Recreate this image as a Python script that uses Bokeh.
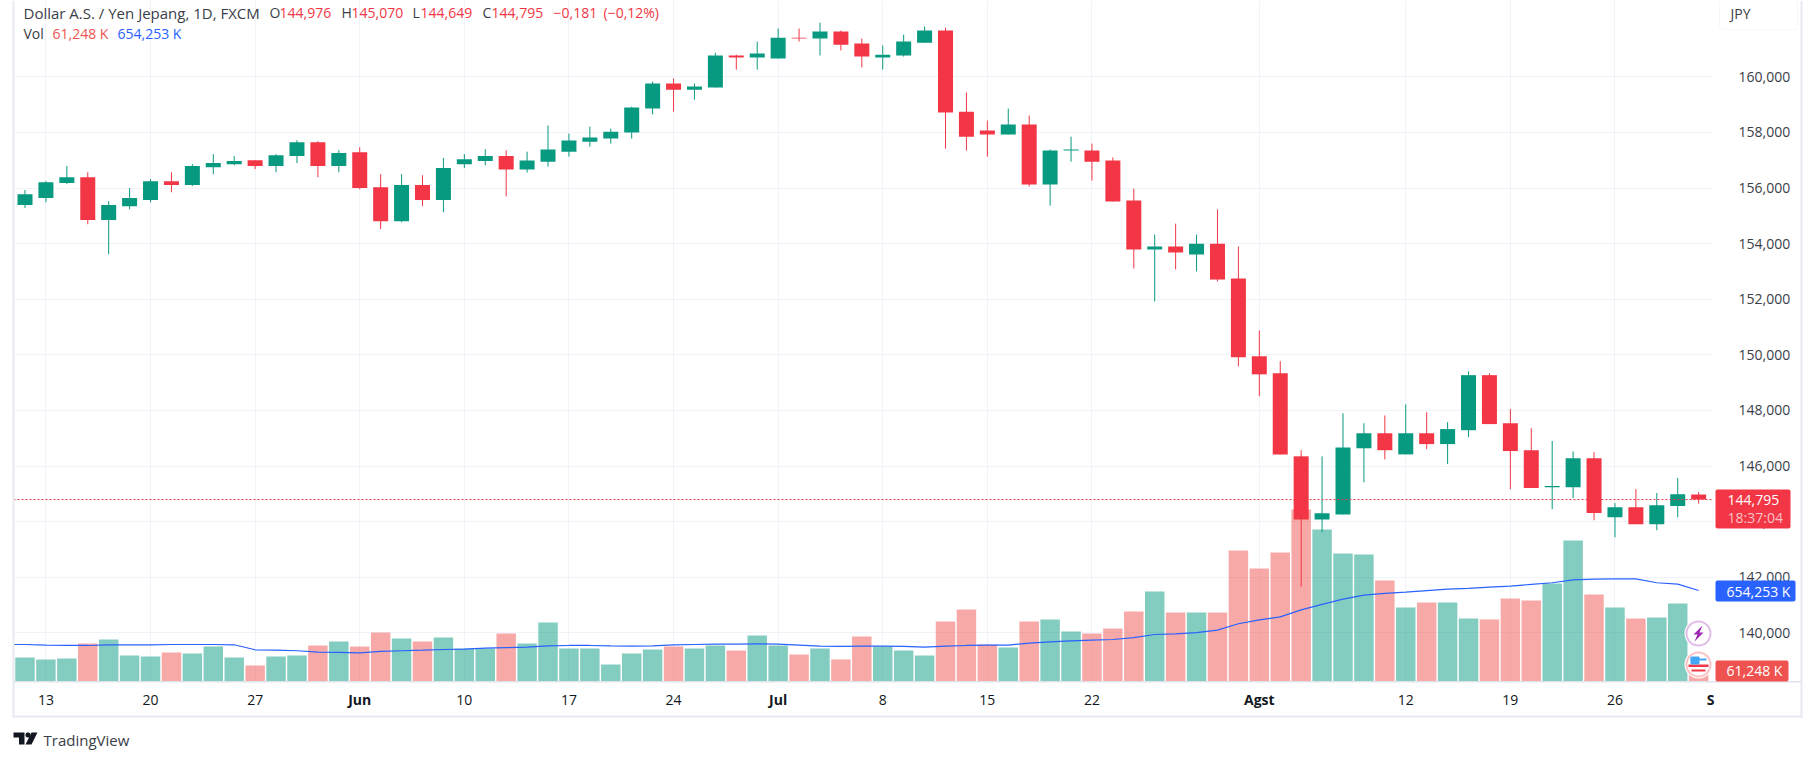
import numpy as np
from bokeh.plotting import figure
from bokeh.embed import file_html
from bokeh.resources import INLINE
from bokeh.models import (ColumnDataSource, Range1d, FixedTicker, Label, BoxAnnotation,
                          PolyAnnotation, Span)

open_ = [155.39,155.64,156.18,156.39,154.85,155.35,155.57,156.25,156.11,156.75,156.86,157.00,156.79,157.15,157.65,156.79,157.29,156.03,154.81,156.11,155.57,156.86,156.97,157.15,
         156.67,156.95,157.31,157.67,157.78,158.00,158.86,159.76,159.54,159.62,160.77,160.70,160.66,161.41,161.38,161.63,161.20,160.70,160.77,161.23,161.67,158.75,158.07,157.93,158.29,156.13,157.35,157.35,156.99,155.55,153.79,153.90,153.61,154.00,
         152.75,149.95,149.34,146.35,144.08,144.26,146.64,147.18,146.42,147.18,146.79,147.29,149.27,147.54,146.57,145.24,145.24,146.28,144.16,144.52,143.91,144.56,144.976]
high = [155.93,156.25,156.79,156.57,155.53,156.00,156.32,156.57,156.86,157.22,157.15,157.00,157.22,157.72,157.69,157.36,157.47,156.50,156.50,156.46,157.08,157.22,157.40,157.36,
        157.31,158.25,157.96,158.21,158.14,158.93,159.83,159.94,159.76,160.87,160.80,161.27,161.74,161.74,161.95,161.67,161.38,161.13,161.52,161.81,161.77,159.44,158.43,158.86,158.61,157.39,157.85,157.60,157.10,155.98,154.33,154.72,154.33,155.23,
        153.90,150.88,149.77,146.57,146.35,147.90,147.54,147.82,148.22,147.94,147.58,149.41,149.34,148.05,147.36,146.90,146.53,146.50,144.67,145.17,145.03,145.57,145.07]
low = [155.28,155.49,156.14,154.70,153.62,155.24,155.49,155.85,156.07,156.50,156.82,156.68,156.57,156.90,156.39,156.57,155.96,154.52,154.77,155.35,155.13,156.72,156.82,155.70,
       156.56,156.77,157.13,157.49,157.60,157.78,158.65,158.75,159.18,159.62,160.26,160.26,160.66,161.27,160.77,160.95,160.34,160.26,160.73,161.23,157.42,157.35,157.13,157.93,156.06,155.37,156.95,156.27,155.52,153.11,151.92,153.07,153.00,152.64,
       149.59,148.51,146.42,141.67,143.62,144.26,145.42,146.24,146.42,146.61,146.07,147.04,147.51,145.17,145.21,144.45,144.85,144.05,143.44,143.91,143.69,144.16,144.649]
close = [155.78,156.21,156.39,154.85,155.39,155.64,156.25,156.11,156.79,156.90,156.97,156.79,157.18,157.65,156.79,157.26,156.00,154.81,156.11,155.57,156.72,157.04,157.15,156.67,
         156.99,157.39,157.71,157.82,158.03,158.90,159.76,159.54,159.65,160.77,160.70,160.84,161.41,161.38,161.63,161.16,160.73,160.80,161.27,161.67,158.72,157.85,157.93,158.29,156.13,157.35,157.39,156.95,155.52,153.79,153.90,153.68,154.00,152.71,
         149.91,149.30,146.42,144.08,144.30,146.67,147.18,146.57,147.18,146.79,147.33,149.27,147.51,146.54,145.21,145.28,146.28,144.31,144.52,143.91,144.59,144.99,144.795]
volume = [173,158,165,273,302,187,180,209,201,252,173,115,180,187,259,288,252,352,309,288,316,237,237,345,
          273,424,237,237,122,201,230,252,237,259,223,331,259,194,237,158,324,252,223,187,431,518,266,244,431,446,360,345,381,503,647,496,496,496,
          942,813,928,1237,1093,920,913,726,532,568,568,453,446,597,582,705,1014,626,532,453,460,561,61.248]
vol_ma = [266,261,259,259,264,264,264,266,266,266,264,228,225,221,211,209,206,216,221,225,230,233,240,244,
          247,256,259,259,256,254,256,264,266,268,268,271,268,261,254,252,254,254,252,247,254,259,261,261,276,285,292,297,302,316,338,343,352,369,
          415,443,465,515,554,592,621,633,642,654,664,669,678,686,698,710,731,736,738,738,710,700,654.253]
price_ticks = [140,142,144,146,148,150,152,154,156,158,160]
date_ticks = {1:"13",6:"20",11:"27",16:"",21:"10",26:"17",31:"24",36:"",41:"8",46:"15",51:"22",59:"",66:"12",71:"19",76:"26"}
month_ticks = {16:"Jun",36:"Jul",59:"Agst"}
last_price = 144.795

UP, DOWN = "#089981", "#f23645"
VUP, VDOWN = "#089981", "#ef5350"
GRID, EDGE = "#f0f3fa", "#e8eaf1"
INK, AX = "#131722", "#3a3e48"
FONT = "Open Sans"
N = len(open_)
assert all(len(a) == N for a in (high, low, close, volume, vol_ma)), [len(a) for a in (open_, high, low, close, volume, vol_ma)]

W, H = 1814, 760
XS, XE = -0.55, 80.71
p = figure(width=W, height=H, output_backend="svg", toolbar_location=None,
           x_range=Range1d(XS, XE), y_range=Range1d(138.25, 162.748),
           y_axis_location="right", min_border_left=13, min_border_right=101,
           min_border_top=0, min_border_bottom=79, outline_line_color=None,
           background_fill_color="white", border_fill_color="white")
p.extra_y_ranges["vol"] = Range1d(0, 4896)

x = np.arange(N)
o, c = np.array(open_), np.array(close)
is_up = c >= o
src = ColumnDataSource(dict(x=x, open=o, close=c, high=high, low=low, volume=volume,
                            color=[UP if u else DOWN for u in is_up],
                            vcolor=[VUP if u else VDOWN for u in is_up],
                            top=np.maximum(o, c), bottom=np.minimum(o, c)))

p.vbar(x="x", top="volume", bottom=0, width=0.93, fill_color="vcolor", fill_alpha=0.5,
       line_color=None, source=src, y_range_name="vol")
p.line(np.r_[XS, x], np.r_[vol_ma[0], vol_ma], line_color="#2962ff", line_width=1.2,
       y_range_name="vol")
p.add_layout(Span(location=last_price, dimension="width", line_color=DOWN, line_width=1,
                  line_dash="2 2", level="glyph"))
p.segment(x0="x", x1="x", y0="low", y1="high", line_color="color", line_width=1, source=src)
p.vbar(x="x", top="top", bottom="bottom", width=0.717, fill_color="color", line_color=None, source=src)

# axes and grid
ax = p.yaxis[0]
ax.ticker = FixedTicker(ticks=price_ticks)
ax.major_label_overrides = {t: f"{t},000" for t in price_ticks}
ax.major_label_text_font = FONT
ax.major_label_text_font_size = "14px"
ax.major_label_text_color = AX
ax.major_tick_line_color = None
ax.minor_tick_line_color = None
ax.axis_line_color = None
ax.major_label_standoff = 19

xa = p.xaxis[0]
xa.ticker = FixedTicker(ticks=sorted(date_ticks))
xa.major_label_overrides = date_ticks
xa.major_label_text_font = FONT
xa.major_label_text_font_size = "14px"
xa.major_label_text_color = INK
xa.major_tick_line_color = None
xa.minor_tick_line_color = None
xa.axis_line_color = None
xa.major_label_standoff = 7

p.xgrid.grid_line_color = GRID
p.ygrid.grid_line_color = GRID
p.xgrid.grid_line_width = 1
p.ygrid.grid_line_width = 1

# transparent layer over the whole chart: scale price tags, legend, frame and footer
px_per_bar = 1700 / (XE - XS)
ov = figure(width=W, height=H, output_backend="svg", toolbar_location=None,
            x_range=Range1d(XS - 13 / px_per_bar, XE + 101 / px_per_bar), y_range=Range1d(0, 1),
            x_axis_type=None, y_axis_type=None, min_border=0, outline_line_color=None,
            background_fill_color=None, border_fill_color=None,
            styles={"position": "absolute", "left": "0px", "top": "0px"})
ov.grid.visible = False


def box(l, r, t, b, color, alpha=1.0, line=None, lw=1, radius=0):
    ov.add_layout(BoxAnnotation(left=l, right=r, top=t, bottom=b,
                                left_units="canvas", right_units="canvas", top_units="canvas",
                                bottom_units="canvas", fill_color=color, fill_alpha=alpha,
                                line_color=line, line_width=lw, border_radius=radius,
                                level="annotation"))


def poly(xs, ys, color):
    ov.add_layout(PolyAnnotation(xs=xs, ys=ys, xs_units="canvas", ys_units="canvas",
                                 fill_color=color, fill_alpha=1, line_color=None,
                                 level="annotation"))


def text(t, l, y, color=INK, size="14px", style="normal", alpha=1.0, align="left"):
    ov.add_layout(Label(x=l, y=y, x_units="canvas", y_units="canvas", text=t,
                        text_color=color, text_font=FONT, text_font_size=size,
                        text_font_style=style, text_alpha=alpha, text_align=align,
                        text_baseline="middle", level="annotation"))


# month labels (bold) on the time axis
for i, t in month_ticks.items():
    ov.add_layout(Label(x=i, y=699, x_units="data", y_units="canvas", text=t, text_color=INK,
                        text_font=FONT, text_font_size="14px", text_font_style="bold",
                        text_align="center", text_baseline="middle", level="annotation"))
text("S", 1710, 699, style="bold", align="center")

# frame lines
box(12, 14, 0, 717, EDGE)
box(1800, 1802, 0, 717, EDGE)
box(12, 1802, 715, 717, EDGE)
box(13, 1801, 680.5, 682, "#e0e3eb")

# legend lines
Y1, Y2 = 12, 33
text("Dollar A.S. / Yen Jepang, 1D, FXCM", 23, Y1, color="#3a3e48", size="15px")
for lab, lx, val, vx in [("O", 269, "144,976", 279), ("H", 341, "145,070", 351),
                         ("L", 412, "144,649", 420), ("C", 482, "144,795", 491)]:
    text(lab, lx, Y1, color="#3a3e48")
    text(val, vx, Y1, color=DOWN)
text("−0,181", 553, Y1, color=DOWN)
text("(−0,12%)", 603, Y1, color=DOWN)
text("Vol", 23, Y2, color="#3a3e48")
text("61,248 K", 52, Y2, color="#ef5350")
text("654,253 K", 117, Y2, color="#2962ff")

# currency box
box(1719, 1797, -5, 29, "white", line="#e0e3eb", radius=4)
text("JPY", 1730, 13, color=AX)

# price tags
box(1715, 1790, 489, 528, DOWN, radius=2)
text("144,795", 1727, 499, color="white")
text("18:37:04", 1727, 517, color="white", alpha=0.7)
box(1715, 1795, 580, 601, "#2962ff", radius=2)
text("654,253 K", 1726, 590.5, color="white")
box(1715, 1788, 660, 681, "#ef5350", radius=2)
text("61,248 K", 1726, 670, color="white")

# event icons
box(1684, 1712, 619, 647, "white", radius=14)
box(1686, 1710, 621, 645, "white", line="#9c27b0", lw=2, radius=12)
poly([1702, 1693, 1697, 1694, 1703, 1699], [625, 634, 634, 641, 632, 632], "#9c27b0")
box(1684, 1712, 650, 678, "white", radius=14)
box(1686, 1710, 652, 676, "white", line=DOWN, lw=2, radius=12)
box(1690, 1706, 658, 660, "#42a5f5")
box(1688, 1708, 664, 666.5, DOWN)
box(1691, 1705, 669, 671, DOWN)
box(1690, 1699, 656, 664, "#42a5f5", radius=1)

# footer mark
poly([13, 24, 24, 18.5, 18.5, 13], [732, 732, 744, 744, 737, 737], "#131722")
poly([31, 37, 31, 25], [732, 732, 744, 744], "#131722")
box(25, 30, 732, 737, "#131722", radius=2)
text("TradingView", 43, 739, color="#3a3e48", size="15px")

open("out.html", "w").write(file_html([p, ov], INLINE))
